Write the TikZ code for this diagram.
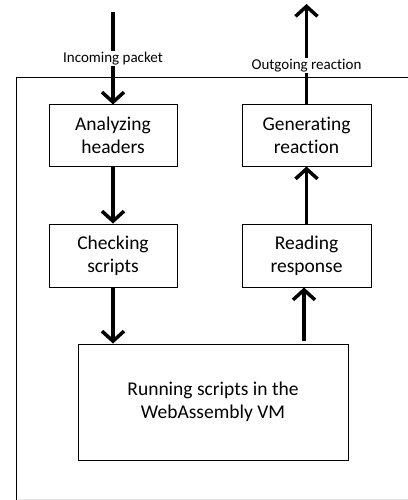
\documentclass[tikz,border=0pt]{standalone}
\usepackage{fontspec}
\setmainfont{Carlito}[Ligatures=NoCommon]
\usetikzlibrary{arrows.meta}
\begin{document}
\begin{tikzpicture}[x=1pt,y=-1pt,
  box/.style={draw=black,line width=1pt,inner sep=0pt,align=center,font=\fontsize{19.5}{23}\selectfont},
  flow/.style={line width=3.5pt,-{Straight Barb[length=10pt,width=22pt,line width=3.5pt]}},
  lbl/.style={fill=white,inner sep=1pt,font=\fontsize{15}{18}\selectfont}]
\useasboundingbox (0,0) rectangle (407,500);
\draw[line width=1.3pt] (16.5,520) -- (16.5,77.5) -- (420,77.5);
\draw[line width=1pt,black!10] (18,499) -- (420,499);
\node[box,minimum width=128pt,minimum height=61pt] (ah) at (113,135.5) {Analyzing\\headers};
\node[box,minimum width=129pt,minimum height=61pt] (gr) at (306.5,135.5) {Generating\\reaction};
\node[box,minimum width=128pt,minimum height=63pt] (cs) at (113,255.5) {Checking\\scripts};
\node[box,minimum width=129pt,minimum height=63pt] (rr) at (306.5,255.5) {Reading\\response};
\node[box,minimum width=270pt,minimum height=116pt] (vm) at (213,402) {Running scripts in the\\WebAssembly VM};
\coordinate (in) at (113,12.5);
\coordinate (out) at (306.5,4);
\draw[flow] (in) -- (ah.north) node[lbl,pos=0.5] {Incoming packet};
\draw[flow] (gr.north) -- (out) node[lbl,pos=0.39] {Outgoing reaction};
\draw[flow] (ah) -- (cs);
\draw[flow] (cs.south) -- (cs.south |- vm.north);
\draw[flow] ([yshift=3pt]vm.north -| 304,0) -- (304,287.5);
\draw[flow] (rr) -- (gr);
\end{tikzpicture}
\end{document}
